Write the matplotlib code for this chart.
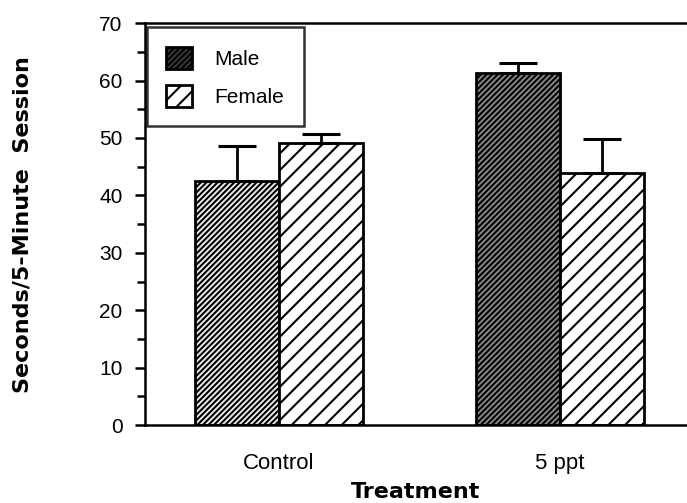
import matplotlib
matplotlib.use("Agg")
import matplotlib.pyplot as plt
from matplotlib.ticker import MultipleLocator
import numpy as np

plt.rcParams['font.family'] = ['Liberation Sans', 'DejaVu Sans']
plt.rcParams['hatch.linewidth'] = 1.5

treatments = ['Control', '5 ppt']
male = [42.5, 61.3]
male_err = [6.1, 1.8]
female = [49.1, 43.9]
female_err = [1.6, 5.9]

x = np.arange(len(treatments))
w = 0.3

fig = plt.figure(figsize=(6.87, 5.03), dpi=100)
ax = fig.add_axes([0.211, 0.155, 0.789, 0.799])

# male bars: dense hatch, the 5 ppt one came out darker in print
ax.bar(x - w / 2, male, w, color=['#f0f0f0', '#8c8c8c'], edgecolor='black',
       hatch='//////', linewidth=2, label='Male')
ax.bar(x + w / 2, female, w, color='white', edgecolor='black',
       hatch='//', linewidth=2, label='Female')

# upper error bars only
ax.errorbar(x - w / 2, male, yerr=[np.zeros(2), male_err], fmt='none',
            ecolor='black', elinewidth=2, capsize=14, capthick=2.2)
ax.errorbar(x + w / 2, female, yerr=[np.zeros(2), female_err], fmt='none',
            ecolor='black', elinewidth=2, capsize=14, capthick=2.2)

ax.set_xlim(-0.477, 1.452)
ax.set_ylim(0, 70)
ax.yaxis.set_major_locator(MultipleLocator(10))
ax.yaxis.set_minor_locator(MultipleLocator(5))
ax.tick_params(axis='y', which='major', direction='out', length=7, width=1.8,
               labelsize=15, pad=9)
ax.tick_params(axis='y', which='minor', direction='out', length=6, width=1.8)
ax.set_xticks(x)
ax.set_xticklabels(treatments)
ax.tick_params(axis='x', length=0, labelsize=16, pad=20)

ax.spines['right'].set_visible(False)
for s in ['left', 'top', 'bottom']:
    ax.spines[s].set_linewidth(1.8)

ax.set_xlabel('Treatment', fontsize=16, fontweight='bold',
              family=['DejaVu Sans'], labelpad=6)
ax.set_ylabel('Seconds/5-Minute  Session', fontsize=16, fontweight='bold',
              family=['DejaVu Sans'])
ax.yaxis.set_label_coords(-0.208, 0.5)

leg = ax.legend(loc='upper left', bbox_to_anchor=(0.003, 0.99), fontsize=15,
                frameon=True, fancybox=False, edgecolor='black',
                handlelength=1.25, handleheight=1.25, borderpad=0.95,
                labelspacing=0.75, handletextpad=1.05, borderaxespad=0.0)
leg.get_frame().set_linewidth(1.8)
leg.legend_handles[0].set_facecolor('#3a3a3a')

fig.savefig('out.png', dpi=100)
